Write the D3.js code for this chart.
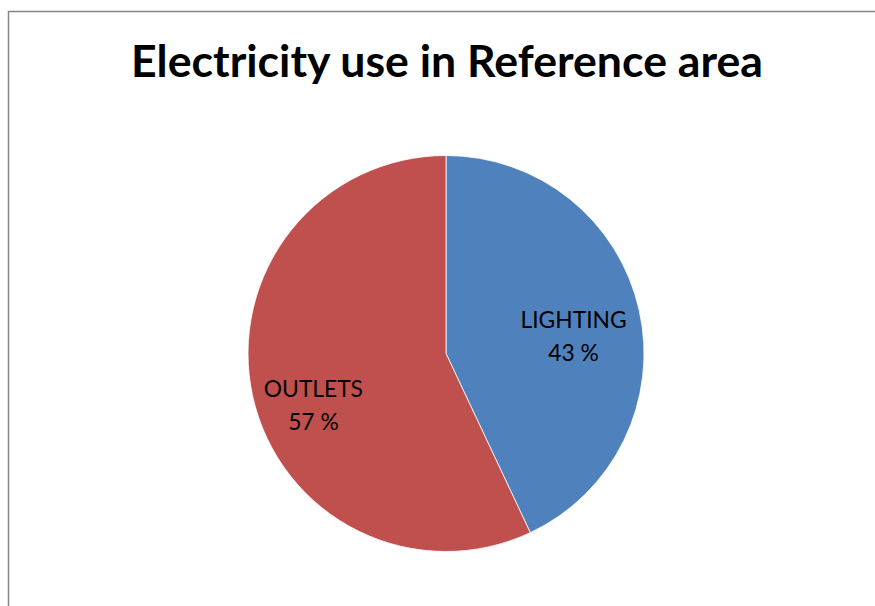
<!DOCTYPE html>
<html>
<head>
<meta charset="utf-8">
<script src="https://cdn.jsdelivr.net/npm/d3@7"></script>
<style>
  html, body { margin: 0; padding: 0; background: #fff; }
  svg { display: block; }
</style>
</head>
<body>
<svg id="chart" width="875" height="606"></svg>
<script>
// Electricity use shares (percent)
const categories = ["LIGHTING", "OUTLETS"];
const shares = [43, 57];
const colors = ["#4F81BD", "#C0504D"];
const title = "Electricity use in Reference area";

const W = 875, H = 606;
const svg = d3.select("#chart");

// chart frame (only left and top edges fall inside the view)
svg.append("rect")
  .attr("x", 8.5).attr("y", 11.5)
  .attr("width", 1000).attr("height", 1000)
  .attr("fill", "none")
  .attr("stroke", "#868686")
  .attr("stroke-width", 1.5);

// title, sized to a target width
const titleText = svg.append("text")
  .attr("x", 447).attr("y", 77)
  .attr("text-anchor", "middle")
  .attr("font-family", "Lato, 'Open Sans', sans-serif")
  .attr("font-weight", "bold")
  .attr("font-size", 39)
  .attr("fill", "#000")
  .text(title);
{
  const w = titleText.node().getComputedTextLength();
  titleText.attr("font-size", 39 * 632 / w);
}

const cx = 446, cy = 353.5, r = 198;
const g = svg.append("g").attr("transform", `translate(${cx},${cy})`);

const pie = d3.pie().sort(null).value(d => d.value);
const data = categories.map((c, i) => ({ name: c, value: shares[i], color: colors[i] }));
const arcs = pie(data);

const arc = d3.arc().innerRadius(0).outerRadius(r);
g.selectAll("path.slice")
  .data(arcs)
  .enter().append("path")
  .attr("class", "slice")
  .attr("d", arc)
  .attr("fill", d => d.data.color)
  .attr("stroke", "#fff")
  .attr("stroke-width", 0.8);

// labels placed around each slice's centroid
const labelArc = d3.arc().innerRadius(r * 0.655).outerRadius(r * 0.655);
const nudge = [[1, 12], [-6, 24]];
const lineGap = 33.5;

const labels = g.selectAll("g.label")
  .data(arcs)
  .enter().append("g")
  .attr("class", "label")
  .attr("transform", (d, i) => {
    const [x, y] = labelArc.centroid(d);
    return `translate(${x + nudge[i][0]},${y + nudge[i][1]})`;
  });

labels.each(function(d) {
  const sel = d3.select(this);
  sel.append("text")
    .attr("text-anchor", "middle")
    .attr("y", -lineGap / 2 + 7.5)
    .attr("font-family", "Lato, 'Open Sans', sans-serif")
    .attr("font-size", 22.8)
    .attr("fill", "#000")
    .text(d.data.name);
  sel.append("text")
    .attr("text-anchor", "middle")
    .attr("y", lineGap / 2 + 7.5)
    .attr("font-family", "Lato, 'Open Sans', sans-serif")
    .attr("font-size", 22.8)
    .attr("fill", "#000")
    .text(d.data.value + " %");
});
</script>
</body>
</html>
